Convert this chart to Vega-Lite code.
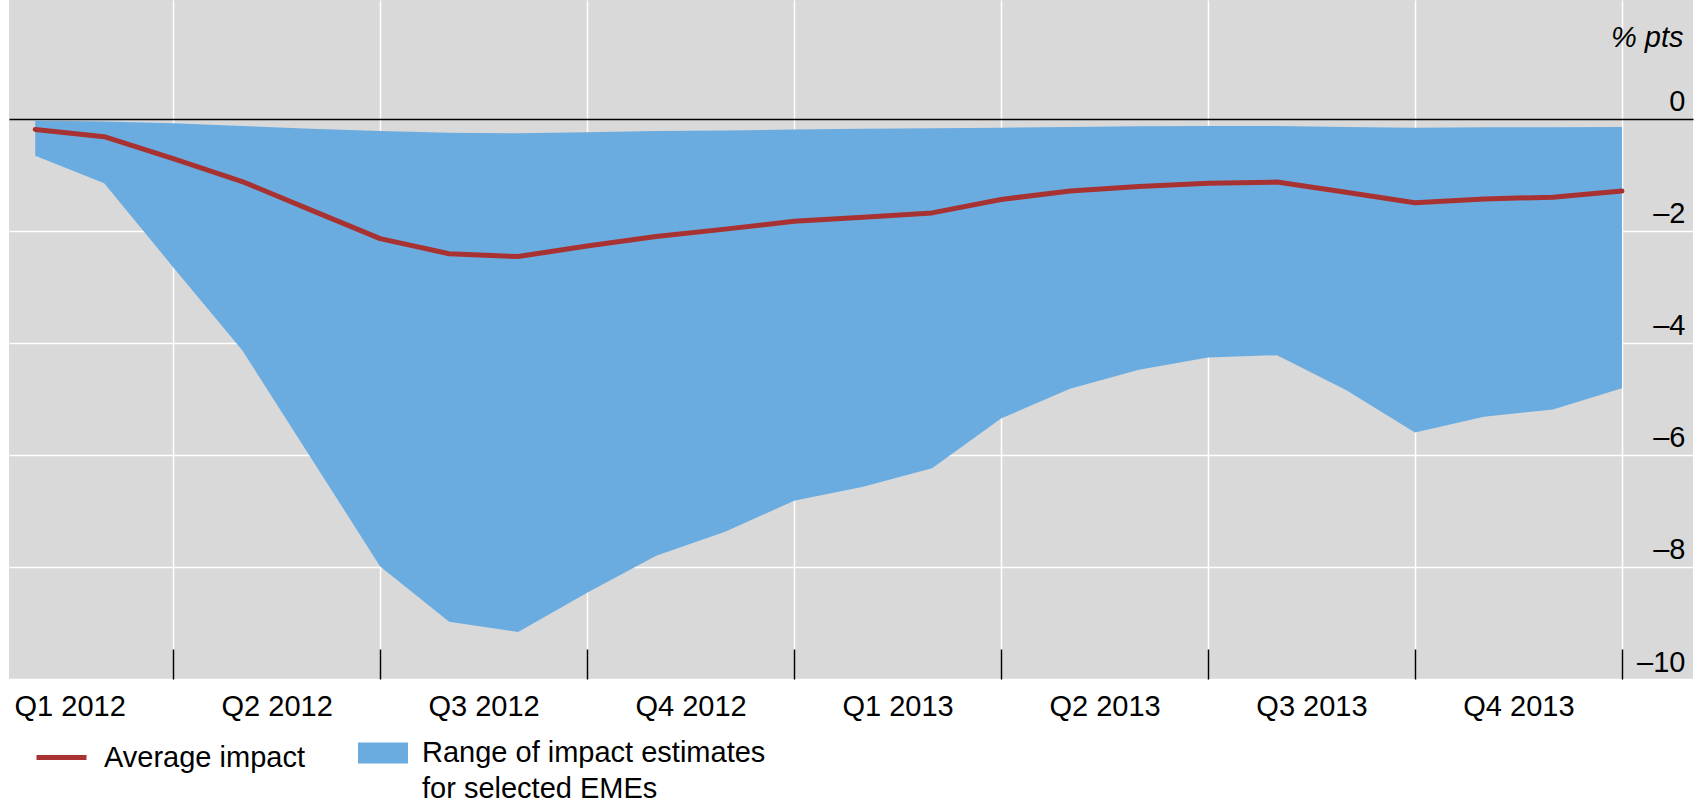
{
  "$schema": "https://vega.github.io/schema/vega-lite/v6.json",
  "width": 1684,
  "height": 679,
  "autosize": {"type": "none"},
  "padding": {"left": 9, "top": 0, "right": 5, "bottom": 124},
  "background": "white",
  "config": {
    "view": {"fill": "#D9D9D9", "stroke": null},
    "font": "Liberation Sans",
    "style": {"guide-label": {"lineHeight": 36}}
  },
  "data": {
    "values": [
      {"m": 0, "avg": -0.19, "lo": -0.66, "hi": -0.03},
      {"m": 1, "avg": -0.32, "lo": -1.15, "hi": -0.05},
      {"m": 2, "avg": -0.71, "lo": -2.65, "hi": -0.08},
      {"m": 3, "avg": -1.12, "lo": -4.13, "hi": -0.13},
      {"m": 4, "avg": -1.63, "lo": -6.06, "hi": -0.18},
      {"m": 5, "avg": -2.14, "lo": -7.99, "hi": -0.22},
      {"m": 6, "avg": -2.41, "lo": -8.98, "hi": -0.25},
      {"m": 7, "avg": -2.46, "lo": -9.16, "hi": -0.26},
      {"m": 8, "avg": -2.27, "lo": -8.46, "hi": -0.24},
      {"m": 9, "avg": -2.10, "lo": -7.80, "hi": -0.22},
      {"m": 10, "avg": -1.97, "lo": -7.37, "hi": -0.21},
      {"m": 11, "avg": -1.83, "lo": -6.82, "hi": -0.19},
      {"m": 12, "avg": -1.76, "lo": -6.57, "hi": -0.18},
      {"m": 13, "avg": -1.68, "lo": -6.24, "hi": -0.17},
      {"m": 14, "avg": -1.44, "lo": -5.35, "hi": -0.16},
      {"m": 15, "avg": -1.29, "lo": -4.82, "hi": -0.145},
      {"m": 16, "avg": -1.21, "lo": -4.48, "hi": -0.135},
      {"m": 17, "avg": -1.15, "lo": -4.26, "hi": -0.13},
      {"m": 18, "avg": -1.13, "lo": -4.22, "hi": -0.13},
      {"m": 19, "avg": -1.31, "lo": -4.84, "hi": -0.145},
      {"m": 20, "avg": -1.50, "lo": -5.60, "hi": -0.16},
      {"m": 21, "avg": -1.43, "lo": -5.32, "hi": -0.15},
      {"m": 22, "avg": -1.40, "lo": -5.19, "hi": -0.15},
      {"m": 23, "avg": -1.29, "lo": -4.81, "hi": -0.145}
    ]
  },
  "encoding": {
    "x": {
      "field": "m",
      "type": "quantitative",
      "scale": {"domain": [-0.38, 24.03], "nice": false, "zero": false},
      "axis": {
        "orient": "bottom",
        "values": [2, 5, 8, 11, 14, 17, 20, 23],
        "grid": true,
        "gridColor": "#FFFFFF",
        "gridWidth": 1.5,
        "domain": false,
        "ticks": true,
        "tickSize": -30,
        "tickColor": "#000000",
        "tickWidth": 1.5,
        "labelExpr": "['Q1 2012','Q2 2012','Q3 2012','Q4 2012','Q1 2013','Q2 2013','Q3 2013','Q4 2013'][(datum.value-2)/3]",
        "labelOffset": -103.5,
        "labelPadding": 66,
        "labelBaseline": "alphabetic",
        "labelAlign": "center",
        "labelFontSize": 29,
        "labelColor": "#000000",
        "labelOverlap": false,
        "labelFlush": false,
        "title": null,
        "zindex": 0
      }
    }
  },
  "layer": [
    {
      "mark": {"type": "area", "opacity": 1},
      "encoding": {
        "y": {
          "field": "lo",
          "type": "quantitative",
          "scale": {"domain": [-10, 2.12], "nice": false, "zero": false},
          "title": "% pts",
          "axis": {
            "orient": "right",
            "values": [-10, -8, -6, -4, -2, 0],
            "grid": true,
            "gridColor": {"condition": {"test": "datum.value === 0", "value": "#000000"}, "value": "#FFFFFF"},
            "gridWidth": 1.5,
            "domain": false,
            "ticks": false,
            "labelAlign": "right",
            "labelBaseline": "alphabetic",
            "labelPadding": -8,
            "labelOffset": -8,
            "labelFontSize": 29,
            "labelColor": "#000000",
            "labelExpr": "datum.value < 0 ? '–' + abs(datum.value) : '' + datum.value",
            "labelOverlap": false,
            "labelFlush": false,
            "titleAngle": 0,
            "titleAlign": "right",
            "titleBaseline": "alphabetic",
            "titleX": -10,
            "titleY": 46,
            "titleFontSize": 29,
            "titleFontStyle": "italic",
            "titleFontWeight": "normal",
            "titleColor": "#000000",
            "zindex": 0
          }
        },
        "y2": {"field": "hi"},
        "fill": {
          "datum": "Range of impact estimates for selected EMEs",
          "type": "nominal",
          "scale": {"domain": ["Range of impact estimates for selected EMEs"], "range": ["#6BACE0"]},
          "legend": {
            "orient": "none",
            "legendX": 349,
            "legendY": 728,
            "padding": 0,
            "title": null,
            "symbolType": "M-1,-0.42H1V0.42H-1Z",
            "symbolSize": 2500,
            "symbolStrokeWidth": 0,
            "symbolOpacity": 1,
            "labelFontSize": 29,
            "labelColor": "#000000",
            "labelOffset": 14,
            "labelLimit": 600,
            "labelBaseline": "middle",
            "labelExpr": "['Range of impact estimates', 'for selected EMEs']"
          }
        }
      }
    },
    {
      "mark": {"type": "line", "strokeWidth": 5, "strokeCap": "round", "strokeJoin": "round"},
      "encoding": {
        "y": {
          "field": "avg",
          "type": "quantitative",
          "title": "% pts"
        },
        "stroke": {
          "datum": "Average impact",
          "type": "nominal",
          "scale": {"domain": ["Average impact"], "range": ["#A83232"]},
          "legend": {
            "orient": "none",
            "legendX": 25,
            "legendY": 730,
            "padding": 0,
            "title": null,
            "symbolType": "stroke",
            "symbolSize": 2500,
            "symbolStrokeWidth": 5,
            "symbolOpacity": 1,
            "labelFontSize": 29,
            "labelColor": "#000000",
            "labelOffset": 15,
            "labelLimit": 600,
            "labelBaseline": "middle"
          }
        }
      }
    }
  ]
}
